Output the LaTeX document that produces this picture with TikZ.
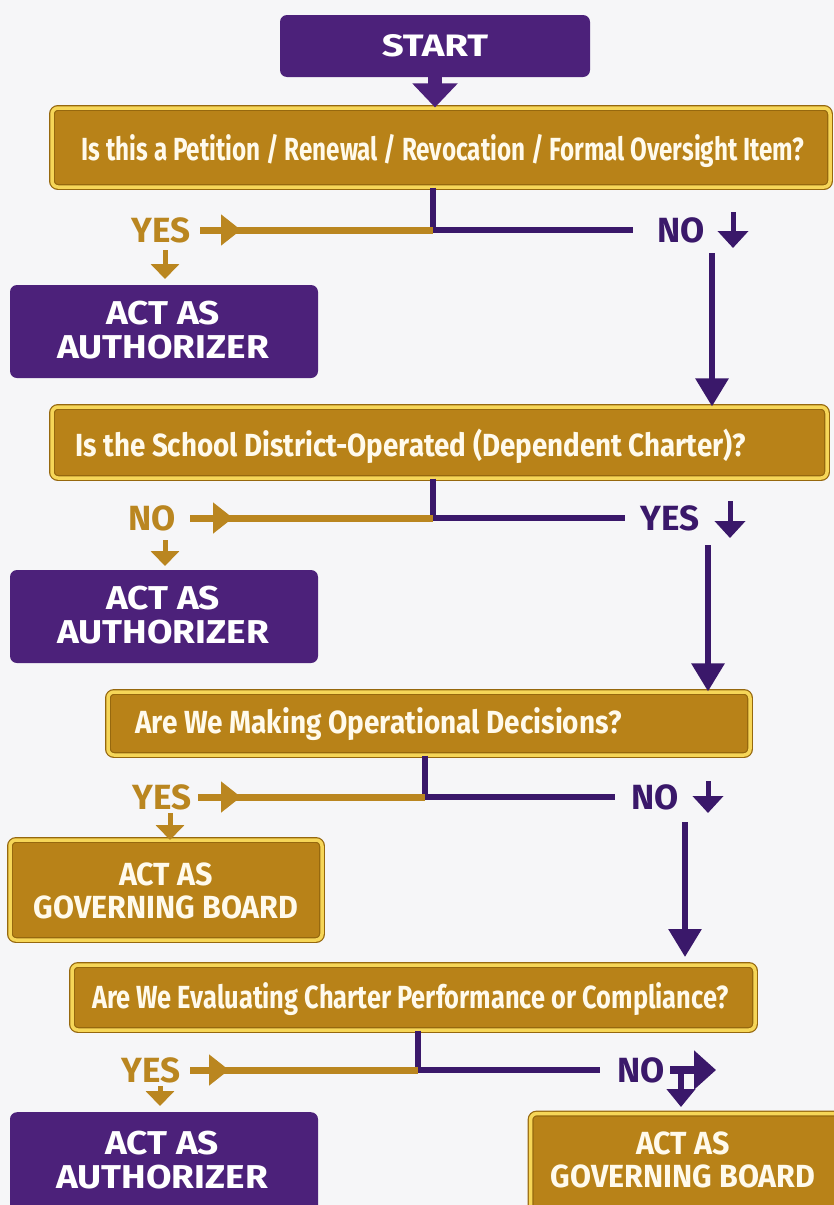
\documentclass[tikz,border=0pt]{standalone}
\usepackage{graphicx}
\usepackage{fontspec}
\setmainfont{Fira Sans}
\newfontfamily\pfont{Fira Sans}[FakeStretch=1.12]
\newfontfamily\sfontx{Fira Sans}[FakeStretch=1.24]
\newfontfamily\gfont{Fira Sans}[FakeStretch=0.95]
\usetikzlibrary{arrows.meta}
\definecolor{bg}{RGB}{246,246,248}
\definecolor{purp}{RGB}{76,33,122}
\definecolor{purpline}{RGB}{58,24,106}
\definecolor{goldfill}{RGB}{184,130,24}
\definecolor{goldtext}{RGB}{186,134,32}
\definecolor{goldlight}{RGB}{246,214,88}
\definecolor{golddark}{RGB}{150,104,14}
\definecolor{cream}{RGB}{255,250,236}
\newcommand{\sx}[2]{\scalebox{#1}[1]{#2}}
\begin{document}
\begin{tikzpicture}[x=1pt,y=-1pt,
  purpbox/.style={rectangle, fill=purp, rounded corners=7pt, text=white, align=center,
    font=\pfont\fontsize{33}{34}\selectfont\bfseries, inner sep=0pt},
  goldbox/.style={rectangle, fill=goldfill, draw=golddark, line width=1.2pt, double=goldlight,
    double distance=3.5pt, rounded corners=6pt, text=cream, align=center,
    font=\gfont\fontsize{32}{33}\selectfont\bfseries, inner sep=0pt},
  qbox/.style={goldbox},
  qtext/.style={text=cream, font=\fontsize{32}{36}\selectfont\bfseries, inner sep=0pt},
  yeslbl/.style={text=goldtext, font=\fontsize{35}{40}\selectfont\bfseries, inner sep=0pt},
  nolbl/.style={text=purpline, font=\fontsize{35}{40}\selectfont\bfseries, inner sep=0pt},
  pline/.style={draw=purpline, line width=5.5pt},
  gline/.style={draw=goldtext, line width=7pt},
  garrowhead/.style={draw=goldtext, line width=7pt, -{Triangle[width=30pt,length=20pt]}},
  longarrow/.style={draw=purpline, line width=6pt, -{Triangle[width=32pt,length=28pt]}},
  smallparrow/.style={draw=purpline, line width=5pt, -{Triangle[width=30pt,length=17pt]}},
  smallgarrow/.style={draw=goldtext, line width=5pt, -{Triangle[width=28pt,length=15pt]}},
]
\fill[bg] (0,0) rectangle (834,1205);
\useasboundingbox (0,0) rectangle (834,1205);
\begin{scope}
\clip (0,0) rectangle (834,1205);
% START
\node[purpbox, minimum width=310pt, minimum height=62pt, font=\sfontx\fontsize{31}{34}\selectfont\bfseries] (start) at (435,46) {START};
% question boxes
\node[qbox, minimum width=778pt, minimum height=79pt] (q1) at (441,147.5) {};
\node[qtext, anchor=base] (q1t) at (443,160) {\sx{0.757}{Is this a Petition / Renewal / Revocation / Formal Oversight Item?}};
\node[qbox, minimum width=775pt, minimum height=71pt] (q2) at (439.5,442.5) {};
\node[qtext, anchor=base west] (q2t) at (75,456) {\sx{0.868}{Is the School District-Operated (Dependent Charter)?}};
\node[qbox, minimum width=642pt, minimum height=63pt] (q3) at (429,723.5) {};
\node[qtext, anchor=base west] (q3t) at (135,733) {\sx{0.874}{Are We Making Operational Decisions?}};
\node[qbox, minimum width=683pt, minimum height=65pt] (q4) at (413.5,997.5) {};
\node[qtext, anchor=base west] (q4t) at (92,1008) {\sx{0.794}{Are We Evaluating Charter Performance or Compliance?}};
% outcome boxes
\node[purpbox, minimum width=308pt, minimum height=93pt] (a1) at (164,331.5) {};
\node[purpbox, fill=none] (a1t) at (163,330) {ACT AS\\AUTHORIZER};
\node[purpbox, minimum width=308pt, minimum height=93pt] (a2) at (164,616.5) {};
\node[purpbox, fill=none] (a2t) at (163,615) {ACT AS\\AUTHORIZER};
\node[goldbox, minimum width=312pt, minimum height=100pt] (g1) at (166,890) {};
\node[goldbox, draw=none, fill=none] (g1t) at (166,891) {ACT AS\\GOVERNING BOARD};
\node[purpbox, minimum width=308pt, minimum height=120pt, anchor=north] (a3) at (164,1112) {};
\node[purpbox, fill=none] (a3t) at (162,1160) {ACT AS\\AUTHORIZER};
\node[goldbox, minimum width=315pt, minimum height=120pt, anchor=north west] (g2) at (530,1113) {};
\node[goldbox, draw=none, fill=none] (g2t) at (683,1160) {ACT AS\\GOVERNING BOARD};
\end{scope}
% START arrow
\draw[draw=purp, line width=14pt, -{Triangle[width=44pt,length=24pt]}] (start.south) -- (q1.north -| start.south);
% ---- branch 1
\coordinate (j1) at (433,230);
\draw[pline] (q1.south -| j1) -- (j1);
\draw[gline] (j1) -- (200,230);
\draw[garrowhead] (200,230) -- (241,230);
\draw[pline] (j1) -- (633,230);
\node[yeslbl] (y1) at (161,230) {YES};
\node[nolbl] (n1) at (681,230) {NO};
\draw[smallparrow] (733,212) -- (733,248);
\draw[longarrow] (712,253) -- (q2.north -| 712,0);
\draw[smallgarrow] (165,250) -- (165,279);
% ---- branch 2
\coordinate (j2) at (433,518);
\draw[pline] (q2.south -| j2) -- (j2);
\draw[gline] (j2) -- (190,518);
\draw[garrowhead] (190,518) -- (233,518);
\draw[pline] (j2) -- (625,518);
\node[yeslbl] (n2) at (152,518) {NO};
\node[nolbl] (y2) at (670,518) {YES};
\draw[smallparrow] (730,501) -- (730,538);
\draw[longarrow] (708,545) -- (q3.north -| 708,0);
\draw[smallgarrow] (165,540) -- (165,566);
% ---- branch 3
\coordinate (j3) at (425,797);
\draw[pline] (q3.south -| j3) -- (j3);
\draw[gline] (j3) -- (198,797);
\draw[garrowhead] (198,797) -- (241,797);
\draw[pline] (j3) -- (615,797);
\node[yeslbl] (y3) at (162,797) {YES};
\node[nolbl] (n3) at (655,797) {NO};
\draw[smallparrow] (708,781) -- (708,813);
\draw[longarrow] (685,822) -- (685,957);
\draw[smallgarrow] (170,813) -- (170,840);
% ---- branch 4
\coordinate (j4) at (418,1070);
\draw[pline] (q4.south -| j4) -- (j4);
\draw[gline] (j4) -- (190,1070);
\draw[garrowhead] (190,1070) -- (229,1070);
\draw[pline] (j4) -- (600,1070);
\node[yeslbl] (y4) at (151,1070) {YES};
\node[nolbl] (n4) at (641,1070) {NO};
\draw[draw=purpline, line width=8pt, -{Triangle[width=38pt,length=22pt]}] (670,1070) -- (716,1070);
\draw[draw=purpline, line width=6pt, -{Triangle[width=28pt,length=18pt]}] (681,1070) -- (681,1107);
\draw[smallgarrow] (160,1086) -- (160,1106);
\end{tikzpicture}
\end{document}
